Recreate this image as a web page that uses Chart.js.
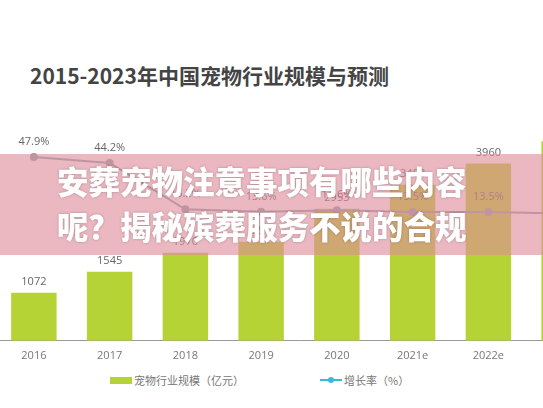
<!DOCTYPE html>
<html><head><meta charset="utf-8">
<script src="https://cdn.jsdelivr.net/npm/chart.js@4/dist/chart.umd.min.js"></script>
<style>
body{margin:0;width:543px;height:408px;overflow:hidden;background:#fff;font-family:"Noto Sans CJK SC","Noto Sans",sans-serif;position:relative}
#title{position:absolute;left:30px;top:60px;font-size:21px;font-weight:bold;color:#444}
#wrap{position:absolute;left:-10px;top:90px;width:618px;height:280px}
#banner{position:absolute;left:0;top:154px;width:543px;height:101px;background:rgba(222,140,155,0.62);}
#btxt{position:absolute;left:57px;top:158px;color:#fff;font-size:31.5px;font-weight:900;line-height:45px;text-shadow:0 0 3px rgba(0,0,0,0.25);white-space:nowrap}
#legend{position:absolute;top:372px;left:0;width:543px;font-size:11px;color:#777}
.lg{position:absolute;display:flex;align-items:center}
</style></head><body>
<div id="title">2015-2023年中国宠物行业规模与预测</div>
<div id="wrap"><canvas id="c"></canvas></div>
<div id="banner"></div>
<div id="btxt">安葬宠物注意事项有哪些内容<br>呢？揭秘殡葬服务不说的合规</div>
<div id="legend">
<div class="lg" style="left:110px"><span style="display:inline-block;width:22px;height:7px;background:#b5d334;margin-right:2px"></span>宠物行业规模（亿元）</div>
<div class="lg" style="left:320px"><span style="display:inline-block;width:22px;height:2px;background:#3bb8d8;margin-right:2px;position:relative"><span style="position:absolute;left:8px;top:-2px;width:6px;height:6px;border-radius:3px;background:#3bb8d8"></span></span>增长率（%）</div>
</div>
<script>
const categories=["2016","2017","2018","2019","2020","2021e","2022e","2023e"];
const scaleValues=[1072,1545,1970,2212,2953,3488,3960,4456];
const growthRates=[47.9,44.2,15.2,13.6,14.6,13.5,13.5,12.5];
const labelPlugin={id:'lbl',afterDatasetsDraw(ch){
 const ctx=ch.ctx;ctx.save();ctx.font='11px "Open Sans",sans-serif';ctx.fillStyle='#666';ctx.textAlign='center';
 ch.getDatasetMeta(1).data.forEach((b,i)=>{ctx.fillText(scaleValues[i],b.x,b.y-8);});
 ch.getDatasetMeta(0).data.forEach((p,i)=>{ctx.fillText(growthRates[i].toFixed(1)+'%',p.x,p.y-12);});
 ctx.restore();}};
new Chart(document.getElementById('c'),{
 data:{labels:categories,datasets:[
  {type:'line',data:growthRates,yAxisID:'y1',borderColor:'#8fa0a8',backgroundColor:'#8fa0a8',borderWidth:2,pointRadius:3,order:0},
  {type:'bar',data:scaleValues,yAxisID:'y',backgroundColor:'#b5d334',barPercentage:0.6,categoryPercentage:1,order:1}
 ]},
 options:{responsive:true,maintainAspectRatio:false,animation:false,
  layout:{padding:{top:10,left:0,right:0,bottom:0}},
  plugins:{legend:{display:false},tooltip:{enabled:false}},
  scales:{
   x:{grid:{display:false,drawTicks:false},border:{color:'#999',width:1},ticks:{color:'#777',font:{size:11,family:'"Open Sans"'},padding:8}},
   y:{display:false,min:0,max:5380},
   y1:{display:false,min:-67,max:83.5}
  }},
 plugins:[labelPlugin]
});
</script>
</body></html>
